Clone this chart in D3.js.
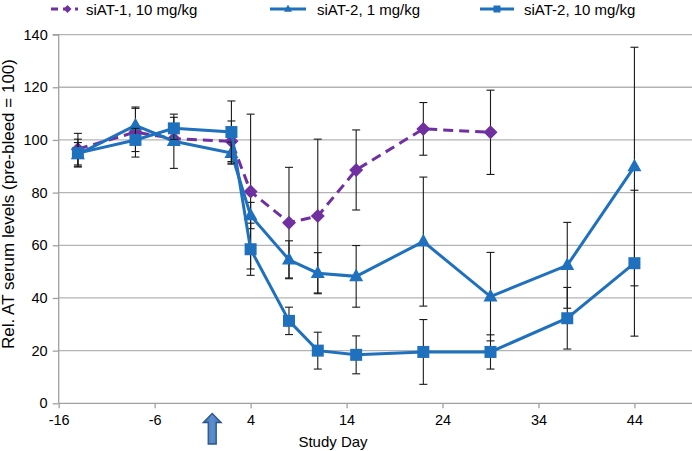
<!DOCTYPE html>
<html>
<head>
<meta charset="utf-8">
<script src="https://cdn.jsdelivr.net/npm/d3@7"></script>
<style>
  html, body { margin: 0; padding: 0; background: #fff; }
  svg { display: block; font-family: "Liberation Sans", Arial, sans-serif; }
</style>
</head>
<body>
<svg id="chart" width="692" height="451"></svg>
<script>
// ---- data ----
const xTicks = [-16, -6, 4, 14, 24, 34, 44];
const yTicks = [0, 20, 40, 60, 80, 100, 120, 140];

const seriesNames = ["siAT-1, 10 mg/kg", "siAT-2, 1 mg/kg", "siAT-2, 10 mg/kg"];

const days1 = [-14, -8, -4, 2, 4, 8, 11, 15, 22, 29];
const vals1 = [96.5, 103, 100.5, 99.5, 80.4, 68.6, 71.1, 88.6, 104.2, 102.9];
const errs1 = [6, 9.5, 2, 7.7, 29.4, 21, 29.2, 15.2, 10, 16];

const days2 = [-14, -8, -4, 2, 4, 8, 11, 15, 22, 29, 37, 44];
const vals2 = [94.5, 105.5, 99.5, 95, 71.3, 54.5, 49.4, 48.2, 61.4, 40.5, 52.4, 89.9];
const errs2 = [4.5, 6.5, 10.3, 4.2, 5, 7.2, 7.8, 11.7, 24.5, 16.8, 16.3, 45.3];

const days3 = [-14, -8, -4, 2, 4, 8, 11, 15, 22, 29, 37, 44];
const vals3 = [95, 100, 104.4, 103, 58.5, 31.3, 20, 18.4, 19.5, 19.5, 32.3, 53.2];
const errs3 = [5.3, 4.4, 4.2, 11.8, 9.9, 5.2, 7, 7.2, 12.3, 6.5, 11.7, 27.7];

const arrowDay = 0;
const xTitle = "Study Day";
const yTitle = "Rel. AT serum levels (pre-bleed = 100)";

// ---- scales ----
const svg = d3.select("#chart");
const x = d3.scaleLinear().domain([-16, 50]).range([58.7, 692]);
const y = d3.scaleLinear().domain([0, 140]).range([403.3, 34.6]);

const purple = "#7030a0";
const blue = "#1f70bd";
const gridCol = "#b3b3b3";
const axisCol = "#a0a0a0";

// gridlines
svg.append("g").selectAll("line").data(yTicks.filter(d => d > 0)).join("line")
  .attr("x1", x(-16)).attr("x2", 692)
  .attr("y1", d => y(d)).attr("y2", d => y(d))
  .attr("stroke", gridCol).attr("stroke-width", 1.3);

// axes
const fmt = d => String(d);
const yAxis = svg.append("g").attr("transform", `translate(${x(-16)},0)`)
  .call(d3.axisLeft(y).tickValues(yTicks).tickFormat(fmt).tickSize(6).tickPadding(5));
const xAxis = svg.append("g").attr("transform", `translate(0,${y(0)})`)
  .call(d3.axisBottom(x).tickValues(xTicks).tickFormat(fmt).tickSize(5).tickPadding(6).tickSizeOuter(0));
[yAxis, xAxis].forEach(g => {
  g.select(".domain").attr("stroke", axisCol).attr("stroke-width", 1.3);
  g.selectAll(".tick line").attr("stroke", axisCol).attr("stroke-width", 1.3);
  g.selectAll(".tick text").attr("fill", "#000").style("font-size", "14.5px")
    .style("font-family", '"Liberation Sans", Arial, sans-serif');
});
yAxis.select(".domain").attr("d", `M-6,${y(140)}H0V${y(0)}`);
xAxis.select(".domain").attr("d", `M${x(-16)},0H692`);

// axis titles
svg.append("text").attr("x", 333).attr("y", 447)
  .attr("text-anchor", "middle").style("font-size", "15px").text(xTitle);
svg.append("text").attr("transform", `translate(14,204) rotate(-90)`)
  .attr("text-anchor", "middle").style("font-size", "17px").text(yTitle);

// arrow
const ax = x(arrowDay);
const arrowPath = `M${ax},413.5 L${ax + 9},422.5 L${ax + 4},422.5 L${ax + 4},444 L${ax - 4},444 L${ax - 4},422.5 L${ax - 9},422.5 Z`;
const defs = svg.append("defs");
const grad = defs.append("linearGradient").attr("id", "ag").attr("x1", 0).attr("x2", 1).attr("y1", 0).attr("y2", 0);
grad.append("stop").attr("offset", "0%").attr("stop-color", "#3f6fae");
grad.append("stop").attr("offset", "50%").attr("stop-color", "#5b8fd0");
grad.append("stop").attr("offset", "100%").attr("stop-color", "#3f6fae");
svg.append("path").attr("d", arrowPath).attr("fill", "url(#ag)")
  .attr("stroke", "#2e5487").attr("stroke-width", 1.3);

// series
const series = [
  { days: days1, vals: vals1, errs: errs1, color: purple, dash: "10,6", marker: "diamond" },
  { days: days2, vals: vals2, errs: errs2, color: blue, dash: null, marker: "triangle" },
  { days: days3, vals: vals3, errs: errs3, color: blue, dash: null, marker: "square" }
];

// s = characteristic width in px
function markerPath(type, s) {
  if (type === "diamond") {
    const h = s / 2;
    return `M0,${-h}L${h},0L0,${h}L${-h},0Z`;
  }
  if (type === "triangle") {
    const h = s * 0.9;
    return `M0,${-h * 0.62}L${s / 2},${h * 0.38}L${-s / 2},${h * 0.38}Z`;
  }
  return d3.symbol(d3.symbolSquare, s * s)();
}

const line = d3.line().x(d => x(d[0])).y(d => y(d[1]));

series.forEach(s => {
  const pts = s.days.map((d, i) => [d, s.vals[i], s.errs[i]]);
  const g = svg.append("g");
  const eb = g.append("g").attr("stroke", "#1a1a1a").attr("stroke-width", 1.1);
  pts.forEach(p => {
    const cx = x(p[0]);
    const y1 = y(p[1] + p[2]), y2 = y(Math.max(0, p[1] - p[2]));
    eb.append("line").attr("x1", cx).attr("x2", cx).attr("y1", y1).attr("y2", y2);
    eb.append("line").attr("x1", cx - 4).attr("x2", cx + 4).attr("y1", y1).attr("y2", y1);
    eb.append("line").attr("x1", cx - 4).attr("x2", cx + 4).attr("y1", y2).attr("y2", y2);
  });
  g.append("path").attr("d", line(pts)).attr("fill", "none")
    .attr("stroke", s.color).attr("stroke-width", 3)
    .attr("stroke-dasharray", s.dash);
  const size = s.marker === "square" ? 12 : s.marker === "triangle" ? 14 : 14;
  g.selectAll("path.m").data(pts).join("path").attr("class", "m")
    .attr("transform", d => `translate(${x(d[0])},${y(d[1])})`)
    .attr("d", markerPath(s.marker, size))
    .attr("fill", s.color);
});

// legend
const legendItems = [
  { x1: 51, x2: 78, tx: 86, color: purple, dash: "7,5", marker: "diamond" },
  { x1: 270, x2: 306, tx: 317, color: blue, dash: null, marker: "triangle" },
  { x1: 480, x2: 514, tx: 524, color: blue, dash: null, marker: "square" }
];
const lg = svg.append("g");
legendItems.forEach((it, i) => {
  const ly = 9;
  lg.append("line").attr("x1", it.x1).attr("x2", it.x2).attr("y1", ly).attr("y2", ly)
    .attr("stroke", it.color).attr("stroke-width", 3).attr("stroke-dasharray", it.dash);
  const sz = it.marker === "square" ? 7 : 8;
  lg.append("path").attr("transform", `translate(${(it.x1 + it.x2) / 2 + (i === 0 ? 3 : 0)},${ly})`)
    .attr("d", markerPath(it.marker, sz)).attr("fill", it.color);
  lg.append("text").attr("x", it.tx).attr("y", 14.5).style("font-size", "15px")
    .text(seriesNames[i]);
});
</script>
</body>
</html>
